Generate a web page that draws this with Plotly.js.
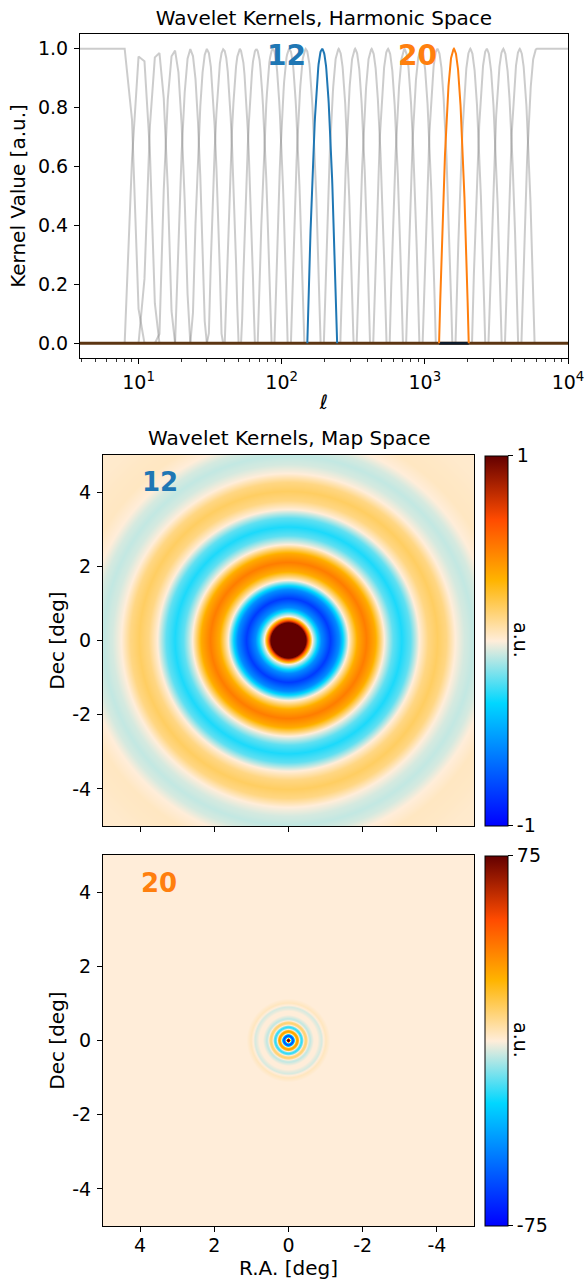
<!DOCTYPE html>
<html>
<head>
<meta charset="utf-8">
<script src="https://cdn.plot.ly/plotly-3.0.1.min.js"></script>
<style>html,body{margin:0;padding:0;background:#fff}#chart{width:585px;height:1280px}</style>
</head>
<body>
<div id="chart"></div>
<script>
// ---------------- data ----------------
// peak multipoles (nodes) of the 26 harmonic-space wavelet kernels
const ellNodes = [8.00, 10.42, 13.58, 17.70, 23.07, 30.06, 39.18, 51.06, 66.54, 86.71,
                  113.0, 147.3, 191.9, 250.1, 325.9, 424.7, 553.5, 721.3, 940.0, 1225,
                  1596, 2080, 2711, 3533, 4604, 6000];
// kernel shape: value vs. distance from its peak (in units of node spacing, log ell)
const shapeOffset = [0, 0.1, 0.2, 0.3, 0.4, 0.5, 0.6, 0.7, 0.8, 0.9];
const shapeValue  = [1, 0.99, 0.96, 0.90, 0.81, 0.70, 0.56, 0.40, 0.21, 0];
const highlighted = [12, 20];
const ellTickVals = [10, 100, 1000, 10000];
const ellTickText = ['10<sup>1</sup>', '10<sup>2</sup>', '10<sup>3</sup>', '10<sup>4</sup>'];
const kernelTicks = [0, 0.2, 0.4, 0.6, 0.8, 1.0];

// map-space kernels: radial profiles (radius in deg, value in a.u.)
const map12Radius = [0, 0.15, 0.30, 0.40, 0.48, 0.56, 0.66, 0.90, 1.14, 1.38, 1.63, 1.87, 2.11, 2.35,
                     2.59, 2.83, 3.06, 3.30, 3.53, 3.77, 4.02, 4.26, 4.50, 4.74, 4.98, 5.21, 5.45,
                     5.80, 6.20, 6.60, 7.20];
const map12Value  = [3.2, 2.9, 2.2, 1.6, 1.05, 0.55, 0, -0.57, -0.82, -0.57, 0, 0.36, 0.50, 0.36,
                     0, -0.21, -0.30, -0.21, 0, 0.13, 0.18, 0.13, 0, -0.055, -0.08, -0.055, 0,
                     0.035, 0.03, 0.02, 0.015];
const map20Radius = [0, 0.02, 0.036, 0.05, 0.065, 0.079, 0.108, 0.137, 0.166, 0.196, 0.225, 0.254,
                     0.283, 0.312, 0.340, 0.369, 0.397, 0.425, 0.454, 0.483, 0.512, 0.542, 0.570,
                     0.600, 0.63, 0.70, 0.80, 0.86, 0.91, 0.96, 1.02, 1.08, 1.14, 1.25];
const map20Value  = [240, 200, 120, 78, 40, 0, -42, -60, -42, 0, 22, 31, 22, 0, -15, -21, -15,
                     0, 9, 12, 9, 0, -4.5, -6, -4, 0, 0, -2.5, -4, 0, 3, 1.5, 0, 0];
const mapTicks = [-4, -2, 0, 2, 4];
const mapTickText = ['-4', '-2', '0', '2', '4'];
const cbar12Ticks = [-1, 1];
const cbar20Ticks = [-75, 75];

// ---------------- helpers ----------------
function interp(xs, ys, x) {
  if (x <= xs[0]) return ys[0];
  for (let i = 1; i < xs.length; i++) {
    if (x <= xs[i]) {
      const t = (x - xs[i - 1]) / (xs[i] - xs[i - 1]);
      return ys[i - 1] + t * (ys[i] - ys[i - 1]);
    }
  }
  return ys[ys.length - 1];
}
const L = ellNodes.map(Math.log10);
const nK = ellNodes.length;
const maxU = shapeOffset[shapeOffset.length - 1];
function kernel(k, ell) {
  const l = Math.log10(ell);
  if (l <= L[k]) {
    if (k === 0) return 1;
    return interp(shapeOffset, shapeValue, (L[k] - l) / (L[k] - L[k - 1]));
  }
  if (k === nK - 1) return 1;
  return interp(shapeOffset, shapeValue, (l - L[k]) / (L[k + 1] - L[k]));
}
function support(k) {
  const lo = k === 0 ? 2 : Math.pow(10, L[k] - maxU * (L[k] - L[k - 1]));
  const hi = k === nK - 1 ? 10000 : Math.pow(10, L[k] + maxU * (L[k + 1] - L[k]));
  return [lo, hi];
}
function samples(k) {
  const [lo, hi] = support(k);
  const a = Math.floor(lo), b = Math.ceil(hi);
  const step = Math.max(1, Math.ceil((b - a) / 500));
  const xs = [];
  for (let e = a; e < b; e += step) xs.push(e);
  xs.push(b);
  return xs;
}

const traces = [];
for (let k = 0; k < nK; k++) {
  if (highlighted.includes(k)) continue;
  const xs = samples(k);
  traces.push({type: 'scatter', mode: 'lines', x: xs, y: xs.map(e => kernel(k, e)),
    xaxis: 'x', yaxis: 'y', line: {color: 'rgba(128,128,128,0.4)', width: 2}, hoverinfo: 'skip'});
}
traces.push({type: 'scatter', mode: 'lines', x: [2, 10000], y: [0, 0], xaxis: 'x', yaxis: 'y',
  line: {color: '#5c3512', width: 2.8}, hoverinfo: 'skip'});
const s20 = support(20);
traces.push({type: 'scatter', mode: 'lines', x: s20, y: [0, 0], xaxis: 'x', yaxis: 'y',
  line: {color: '#0c1a2a', width: 2.8}, hoverinfo: 'skip'});
const hlColors = {12: '#1f77b4', 20: '#ff7f0e'};
highlighted.forEach(k => {
  const xs = samples(k);
  traces.push({type: 'scatter', mode: 'lines', x: xs, y: xs.map(e => kernel(k, e)),
    xaxis: 'x', yaxis: 'y', line: {color: hlColors[k], width: 2}, hoverinfo: 'skip'});
});

// map grids
const N = 372;
const coords = [];
for (let i = 0; i < N; i++) coords.push(-5 + (i + 0.5) * 10 / N);
function radialGrid(R, V) {
  return coords.map(y => coords.map(x => interp(R, V, Math.hypot(x, y))));
}
const planck = [[0, '#0000ff'], [0.332, '#00d7ff'], [0.5, '#ffedd9'], [0.664, '#ffb400'],
                [0.828, '#ff4b00'], [1, '#640000']];
const W = 585, H = 1280;
const fx = p => p / W, fy = p => 1 - p / H;
const FONT = 'DejaVu Sans';
function cbar(yc, ticks) {
  return {x: fx(485), xanchor: 'left', y: fy(yc), yanchor: 'middle', len: 370, lenmode: 'pixels',
    thickness: 23, thicknessmode: 'pixels', xpad: 0, ypad: 0, outlinewidth: 1, outlinecolor: '#000',
    tickmode: 'array', tickvals: ticks, ticktext: ticks.map(String), ticks: 'outside', ticklen: 5,
    tickcolor: '#000', tickfont: {family: FONT, size: 19, color: '#000'}};
}
traces.push({type: 'heatmap', x: coords, y: coords, z: radialGrid(map12Radius, map12Value),
  zmin: -1, zmax: 1, colorscale: planck, xaxis: 'x2', yaxis: 'y2', colorbar: cbar(640.5, cbar12Ticks),
  hoverinfo: 'skip'});
traces.push({type: 'heatmap', x: coords, y: coords, z: radialGrid(map20Radius, map20Value),
  zmin: -75, zmax: 75, colorscale: planck, xaxis: 'x3', yaxis: 'y3', colorbar: cbar(1040.5, cbar20Ticks),
  hoverinfo: 'skip'});

const axBase = {showline: true, mirror: true, linecolor: '#000', linewidth: 1, showgrid: false,
  zeroline: false, ticks: 'outside', ticklen: 5, tickwidth: 1, tickcolor: '#000',
  tickfont: {family: FONT, size: 19, color: '#000'}, ticklabelstandoff: 2};
const minorVals = [];
[1, 10, 100, 1000].forEach(d => { for (let m = 2; m <= 9; m++) minorVals.push(m * d); });

const layout = {
  width: W, height: H, margin: {l: 0, r: 0, t: 0, b: 0},
  paper_bgcolor: '#fff', plot_bgcolor: '#fff', showlegend: false,
  font: {family: FONT, size: 19, color: '#000'},
  title: {text: 'Wavelet Kernels, Harmonic Space', x: fx(324), y: fy(18), xref: 'paper', yref: 'paper',
    xanchor: 'center', yanchor: 'middle', font: {family: FONT, size: 20, color: '#000'}},
  xaxis: Object.assign({}, axBase, {type: 'log', domain: [fx(80), fx(568)], range: [Math.log10(3.9), 4],
    anchor: 'y', tickmode: 'array', tickvals: ellTickVals, ticktext: ellTickText,
    minor: {tickmode: 'array', tickvals: minorVals, ticks: 'outside', ticklen: 3, tickwidth: 0.8, tickcolor: '#000'},
    title: {text: 'ℓ', standoff: 3, font: {family: FONT, size: 20}}}),
  yaxis: Object.assign({}, axBase, {domain: [fy(358), fy(34)], range: [-0.05, 1.05], anchor: 'x',
    tickmode: 'array', tickvals: kernelTicks, tickformat: '.1f',
    title: {text: 'Kernel Value [a.u.]', standoff: 6, font: {family: FONT, size: 20}}}),
  xaxis2: Object.assign({}, axBase, {domain: [fx(103), fx(474)], range: [5, -5], anchor: 'y2',
    tickmode: 'array', tickvals: mapTicks, showticklabels: false}),
  yaxis2: Object.assign({}, axBase, {domain: [fy(826), fy(455)], range: [-5, 5], anchor: 'x2',
    tickmode: 'array', tickvals: mapTicks, ticktext: mapTickText,
    title: {text: 'Dec [deg]', standoff: 2, font: {family: FONT, size: 20}}}),
  xaxis3: Object.assign({}, axBase, {domain: [fx(103), fx(474)], range: [5, -5], anchor: 'y3',
    tickmode: 'array', tickvals: mapTicks, ticktext: mapTickText, ticklabelstandoff: -3,
    title: {text: 'R.A. [deg]', standoff: 9, font: {family: FONT, size: 20}}}),
  yaxis3: Object.assign({}, axBase, {domain: [fy(1226), fy(855)], range: [-5, 5], anchor: 'x3',
    tickmode: 'array', tickvals: mapTicks, ticktext: mapTickText,
    title: {text: 'Dec [deg]', standoff: 2, font: {family: FONT, size: 20}}}),
  annotations: [
    {text: 'Wavelet Kernels, Map Space', xref: 'paper', yref: 'paper', x: fx(288.5), y: fy(438),
      xanchor: 'center', yanchor: 'middle', showarrow: false, font: {family: FONT, size: 20, color: '#000'}},
    {text: '<b>12</b>', xref: 'paper', yref: 'paper', x: fx(286), y: fy(56), xanchor: 'center', yanchor: 'middle',
      showarrow: false, font: {family: FONT, size: 28, color: '#1f77b4'}},
    {text: '<b>20</b>', xref: 'paper', yref: 'paper', x: fx(417.5), y: fy(56), xanchor: 'center', yanchor: 'middle',
      showarrow: false, font: {family: FONT, size: 28, color: '#ff7f0e'}},
    {text: '<b>12</b>', xref: 'paper', yref: 'paper', x: fx(160), y: fy(482), xanchor: 'center', yanchor: 'middle',
      showarrow: false, font: {family: FONT, size: 26, color: '#1f77b4'}},
    {text: '<b>20</b>', xref: 'paper', yref: 'paper', x: fx(159), y: fy(883), xanchor: 'center', yanchor: 'middle',
      showarrow: false, font: {family: FONT, size: 26, color: '#ff7f0e'}},
    {text: 'a.u.', xref: 'paper', yref: 'paper', x: fx(521), y: fy(640), xanchor: 'center', yanchor: 'middle',
      textangle: 90, showarrow: false, font: {family: FONT, size: 19, color: '#000'}},
    {text: 'a.u.', xref: 'paper', yref: 'paper', x: fx(521), y: fy(1040), xanchor: 'center', yanchor: 'middle',
      textangle: 90, showarrow: false, font: {family: FONT, size: 19, color: '#000'}}
  ]
};
Plotly.newPlot('chart', traces, layout, {displayModeBar: false, staticPlot: true});
</script>
</body>
</html>
